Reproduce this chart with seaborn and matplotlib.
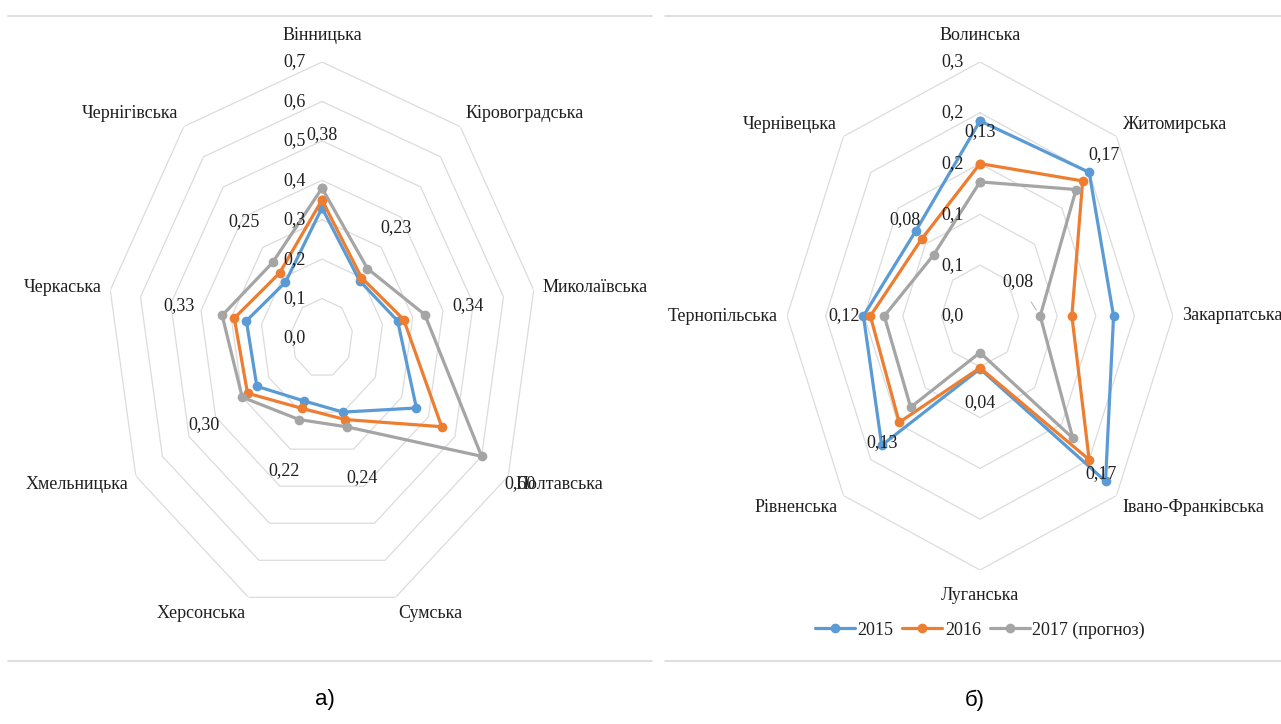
import numpy as np
import pandas as pd
import matplotlib
matplotlib.use('Agg')
import matplotlib.pyplot as plt
import seaborn as sns
from matplotlib.lines import Line2D

# series shared by both panels
series_names = ['2015', '2016', '2017 (прогноз)']
colors = ['#5B9BD5', '#ED7D31', '#A5A5A5']

# a) left radar
left_regions = ['Вінницька', 'Кіровоградська', 'Миколаївська', 'Полтавська', 'Сумська',
                'Херсонська', 'Хмельницька', 'Черкаська', 'Чернігівська']
left_2015 = [0.33, 0.19, 0.25, 0.355, 0.20, 0.17, 0.245, 0.25, 0.185]
left_2016 = [0.35, 0.20, 0.27, 0.45, 0.22, 0.19, 0.28, 0.29, 0.215]
left_2017 = [0.38, 0.23, 0.34, 0.60, 0.24, 0.22, 0.30, 0.33, 0.25]
left_value_labels = ['0,38', '0,23', '0,34', '0,60', '0,24', '0,22', '0,30', '0,33', '0,25']
left_ticks = [0.0, 0.1, 0.2, 0.3, 0.4, 0.5, 0.6, 0.7]
left_tick_labels = ['0,0', '0,1', '0,2', '0,3', '0,4', '0,5', '0,6', '0,7']

# b) right radar
right_regions = ['Волинська', 'Житомирська', 'Закарпатська', 'Івано-Франківська', 'Луганська',
                 'Рівненська', 'Тернопільська', 'Чернівецька']
right_2015 = [0.192, 0.20, 0.173, 0.23, 0.052, 0.18, 0.151, 0.118]
right_2016 = [0.150, 0.188, 0.119, 0.20, 0.051, 0.148, 0.142, 0.107]
right_2017 = [0.132, 0.176, 0.078, 0.17, 0.036, 0.127, 0.124, 0.085]
right_value_labels = ['0,13', '0,17', '0,08', '0,17', '0,04', '0,13', '0,12', '0,08']
right_ticks = [0.0, 0.05, 0.10, 0.15, 0.20, 0.25]
right_tick_labels = ['0,0', '0,1', '0,1', '0,2', '0,2', '0,3']

W, H = 1281, 724
FS = 13
sns.set_theme(style='white')
plt.rcParams['font.family'] = ['Liberation Serif', 'DejaVu Serif']
plt.rcParams['text.color'] = '#1f1f1f'

palette = dict(zip(series_names, colors))


def radar(ax, regions, values, ticks, tick_labels, value_labels, kx, ky, label_overrides=None):
    n = len(regions)
    theta = np.arange(n) * 2 * np.pi / n
    closed = np.append(theta, theta[0])
    rows = []
    for name, vals in zip(series_names, values):
        vv = list(vals) + [vals[0]]
        for t, v in zip(closed, vv):
            rows.append({'theta': t, 'value': v, 'series': name})
    df = pd.DataFrame(rows)

    ax.set_theta_zero_location('N')
    ax.set_theta_direction(-1)
    for t in ticks[1:]:
        ax.plot(closed, [t] * (n + 1), color='#DCDCDC', lw=0.9, zorder=0)

    sns.lineplot(data=df, x='theta', y='value', hue='series', palette=palette,
                 sort=False, estimator=None, marker='o', markersize=7,
                 markeredgewidth=0, linewidth=2.3, legend=False, ax=ax)

    ax.set_ylim(0, ticks[-1])
    ax.set_xticks([])
    ax.set_yticks([])
    ax.grid(False)
    ax.spines['polar'].set_visible(False)
    ax.set_xlabel('')
    ax.set_ylabel('')
    ax.set_aspect('auto')
    ax.patch.set_alpha(0)

    for t, lab in zip(ticks, tick_labels):
        ax.annotate(lab, (0, t), xytext=(-16, 0), textcoords='offset pixels',
                    ha='right', va='center', fontsize=FS)

    rmax = ticks[-1]
    for th, name in zip(theta, regions):
        s, c = np.sin(th), np.cos(th)
        if abs(s) < 0.1:
            ha = 'center'
            dx, dy = 0, 26 * np.sign(c)
        else:
            ha = 'left' if s > 0 else 'right'
            dx, dy = 9 * s, 17 * c
        ax.annotate(name, (th, rmax), xytext=(dx, dy), textcoords='offset pixels',
                    ha=ha, va='center', fontsize=FS)

    label_overrides = label_overrides or {}
    for i, (th, v, lab) in enumerate(zip(theta, values[2], value_labels)):
        if i in label_overrides:
            ax.annotate(lab, (th, v), xytext=label_overrides[i], textcoords='offset pixels',
                        ha='center', va='center', fontsize=FS,
                        arrowprops=dict(arrowstyle='-', color='#A5A5A5', lw=0.6,
                                        shrinkA=7, shrinkB=5))
        else:
            ax.annotate(lab, (th, v), xytext=(kx * np.sin(th), ky * np.cos(th)),
                        textcoords='offset pixels', ha='center', va='center', fontsize=FS)


fig = plt.figure(figsize=(W / 100, H / 100), dpi=100)

# left panel: centre (322, 338), radius 215 x 276 px
axL = fig.add_axes([(322 - 215) / W, 1 - (338 + 276) / H, 430 / W, 552 / H], projection='polar')
radar(axL, left_regions, [left_2015, left_2016, left_2017], left_ticks, left_tick_labels,
      left_value_labels, kx=44, ky=54)

# right panel: centre (980, 316), radius 193 x 254 px
axR = fig.add_axes([(980 - 193) / W, 1 - (316 + 254) / H, 386 / W, 508 / H], projection='polar')
radar(axR, right_regions, [right_2015, right_2016, right_2017], right_ticks, right_tick_labels,
      right_value_labels, kx=40, ky=50, label_overrides={2: (-22, 34)})

handles = [Line2D([], [], color=c, marker='o', lw=2.3, ms=7, mew=0) for c in colors]
fig.legend(handles=handles, labels=series_names, loc='center',
           bbox_to_anchor=(980 / W, 1 - 630 / H), ncol=3, frameon=False,
           handlelength=2.2, handletextpad=0.15, columnspacing=0.5, fontsize=FS)

# chart-area borders
for x0, x1 in [(8, 652), (665, 1281)]:
    for y in [16, 661]:
        fig.add_artist(Line2D([x0 / W, x1 / W], [1 - y / H, 1 - y / H],
                              color='#D9D9D9', lw=1.2))

fig.text(325 / W, 1 - 700 / H, 'а)', fontsize=16, ha='center', va='center',
         family=['Liberation Sans', 'DejaVu Sans'], color='black')
fig.text(975 / W, 1 - 700 / H, 'б)', fontsize=16, ha='center', va='center',
         family=['Liberation Sans', 'DejaVu Sans'], color='black')

fig.savefig('out.png', dpi=100)
